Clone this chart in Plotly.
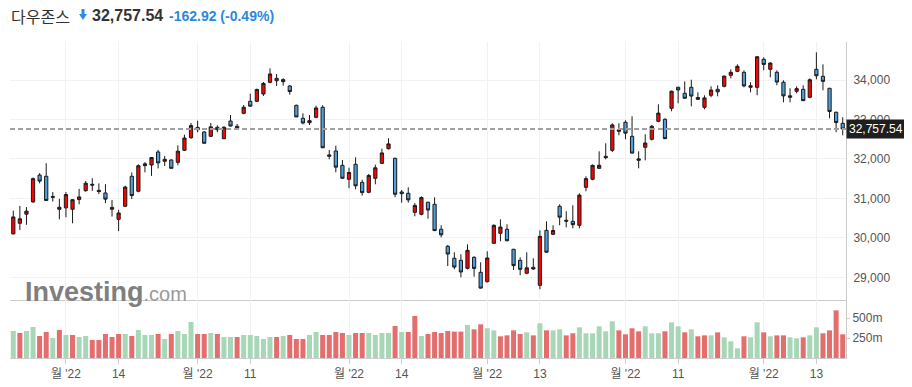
import plotly.graph_objects as go

# ---------------- data ----------------
month_days = {
    "2022-06": [21, 22, 23, 24, 27, 28, 29, 30],
    "2022-07": [1, 5, 6, 7, 8, 11, 12, 13, 14, 15, 18, 19, 20, 21, 22, 25, 26, 27, 28, 29],
    "2022-08": [1, 2, 3, 4, 5, 8, 9, 10, 11, 12, 15, 16, 17, 18, 19, 22, 23, 24, 25, 26, 29, 30, 31],
    "2022-09": [1, 2, 6, 7, 8, 9, 12, 13, 14, 15, 16, 19, 20, 21, 22, 23, 26, 27, 28, 29, 30],
    "2022-10": [3, 4, 5, 6, 7, 10, 11, 12, 13, 14, 17, 18, 19, 20, 21, 24, 25, 26, 27, 28, 31],
    "2022-11": [1, 2, 3, 4, 7, 8, 9, 10, 11, 14, 15, 16, 17, 18, 21, 22, 23, 25, 28, 29, 30],
    "2022-12": [1, 2, 5, 6, 7, 8, 9, 12, 13, 14, 15, 16, 19],
}
dates = [f"{m}-{d:02d}" for m, days in month_days.items() for d in days]

opens = [30100, 30370, 30600, 30910, 31590, 31560, 31050, 30724, 30760, 30725,
         30970, 31195, 31357, 31205, 31137, 30725, 30470, 30800, 31560, 31180,
         31830, 31846, 32176, 31940, 31973, 31914, 32218, 32538, 32741, 32682,
         32573, 32801, 32513, 32961, 32827, 33156, 33460, 33460, 33645, 33941,
         34042, 33957, 33848, 33359, 33029, 32918, 33055, 33308, 32067, 32201,
         31838, 31484, 31864, 31407, 31154, 31509, 31889, 32259, 32016, 31162,
         31129, 30647, 30597, 30901, 30850, 30217, 29786, 29482, 29431, 29228,
         29507, 29127, 28889, 29862, 30115, 30217, 29710, 29431, 29102, 29254,
         28797, 30191, 30090, 30800, 30445, 30419, 30318, 31281, 31484, 31762,
         32066, 32218, 32700, 32928, 32573, 31965, 32295, 32497, 32953, 33004,
         33283, 33815, 33663, 33815, 33511, 33308, 33612, 33764, 33840, 34119,
         34220, 34195, 33815, 33815, 34525, 34271, 34195, 33942, 33562, 33713,
         33764, 33562, 34271, 34093, 33790, 33182, 32903]
highs = [30690, 30810, 30780, 31530, 31640, 31890, 31160, 30990, 31160, 30980,
         31240, 31440, 31510, 31380, 31360, 30960, 30710, 31320, 31660, 31864,
         31920, 32050, 32230, 32075, 31990, 32345, 32615, 32910, 32969, 32708,
         32910, 32852, 32827, 33113, 32885, 33367, 33653, 33780, 33949, 34296,
         34152, 34042, 33873, 33375, 33156, 33113, 33350, 33360, 32226, 32336,
         31973, 31778, 32041, 31474, 31620, 31854, 32259, 32523, 32030, 31213,
         31281, 30883, 31050, 30917, 31027, 30318, 29819, 29634, 29584, 29837,
         29533, 29381, 29659, 30343, 30470, 30343, 29720, 29507, 29634, 29482,
         30191, 30419, 30318, 30850, 30673, 30825, 31129, 31560, 31860, 32193,
         32396, 32903, 32903, 32979, 33080, 32193, 32624, 32860, 33384, 33030,
         33730, 33830, 33967, 34008, 33688, 33612, 33840, 33866, 34110, 34271,
         34398, 34246, 33942, 34601, 34575, 34449, 34246, 33992, 33790, 33840,
         33866, 34042, 34702, 34398, 33800, 33200, 33055]
lows = [30090, 30200, 30330, 30890, 31380, 30940, 30920, 30470, 30520, 30370,
        30850, 31170, 31190, 31110, 30880, 30540, 30170, 30790, 30985, 31154,
        31660, 31570, 31760, 31820, 31750, 31838, 32200, 32513, 32675, 32390,
        32556, 32675, 32500, 32827, 32741, 33131, 33333, 33440, 33595, 33916,
        33848, 33856, 33628, 33062, 32877, 32860, 33029, 32275, 31990, 31661,
        31500, 31256, 31230, 31070, 31130, 31357, 31870, 32240, 31030, 30891,
        30891, 30546, 30570, 30486, 30170, 30014, 29287, 29203, 29000, 29200,
        29016, 28715, 28870, 29850, 29913, 29913, 29186, 29051, 29080, 29186,
        28696, 29630, 30070, 30318, 30267, 30242, 30242, 31180, 31460, 31750,
        31990, 32176, 32599, 32497, 32140, 31762, 31965, 32470, 32930, 32500,
        33207, 33410, 33530, 33333, 33493, 33258, 33562, 33587, 33815, 34042,
        34200, 33815, 33688, 33612, 34246, 34068, 33866, 33435, 33435, 33663,
        33470, 33540, 34017, 33739, 33029, 32675, 32599]
closes = [30530, 30483, 30677, 31500, 31438, 30947, 31029, 30775, 31097, 30967,
          31037, 31385, 31338, 31173, 30981, 30772, 30630, 31288, 31072, 31827,
          31875, 32036, 31899, 31990, 31762, 32197, 32530, 32845, 32798, 32397,
          32813, 32740, 32803, 32833, 32775, 33310, 33336, 33761, 33913, 34153,
          33980, 34010, 33707, 33064, 32910, 32970, 33292, 32283, 32099, 31791,
          31510, 31656, 31318, 31146, 31581, 31775, 32152, 32381, 31105, 31120,
          30962, 30822, 31020, 30706, 30184, 30077, 29590, 29260, 29135, 29684,
          29226, 28726, 29490, 30317, 30274, 29927, 29297, 29203, 29240, 29211,
          30039, 29635, 30186, 30524, 30424, 30334, 31083, 31500, 31837, 31839,
          32034, 32862, 32733, 32653, 32148, 32001, 32403, 32827, 33161, 32514,
          33716, 33748, 33537, 33593, 33554, 33547, 33746, 33700, 34098, 34195,
          34347, 33850, 33853, 34590, 34395, 34430, 33948, 33597, 33598, 33781,
          33477, 34006, 34108, 33966, 33203, 32921, 32757.54]
volumes_m = [340, 315, 340, 390, 277, 327, 252, 353, 290, 290,
             264, 277, 227, 227, 302, 264, 302, 302, 277, 353,
             290, 290, 302, 239, 302, 340, 302, 453, 302, 302,
             315, 302, 264, 264, 264, 290, 290, 277, 239, 264,
             264, 277, 290, 239, 239, 290, 327, 290, 290, 327,
             315, 290, 315, 315, 315, 290, 315, 315, 403, 327,
             327, 529, 277, 302, 327, 315, 340, 332, 332, 416,
             361, 424, 374, 348, 273, 285, 348, 302, 323, 285,
             437, 348, 348, 361, 285, 311, 386, 311, 311, 399,
             336, 462, 348, 298, 374, 336, 399, 311, 311, 336,
             449, 399, 323, 361, 273, 285, 285, 323, 260, 210,
             122, 273, 260, 449, 323, 273, 285, 285, 260, 248,
             260, 285, 386, 311, 348, 600, 298]

tick_dates = ["2022-07-01", "2022-07-14", "2022-08-01", "2022-08-11", "2022-09-01",
              "2022-09-14", "2022-10-03", "2022-10-13", "2022-11-01", "2022-11-11",
              "2022-12-01", "2022-12-13"]
tick_text = ["월 '22", "14", "월 '22", "11", "월 '22", "14", "월 '22", "13",
             "월 '22", "11", "월 '22", "13"]
price_ticks = [29000, 30000, 31000, 32000, 33000, 34000]
vol_ticks = [250, 500]
vol_tick_text = ["250m", "500m"]

name = "다우존스"
last_price = closes[-1]
change = -162.92
change_pct = -0.49

# ---------------- styles ----------------
# the page body has an 8px default margin, so the figure is offset by 8px
OFF = 8
W, H = 912 - OFF, 387 - OFF
RED = "#ff0000"
BLUE = "#4e9fdf"
VOL_UP = "#a7d7b7"
VOL_DN = "#e46d6d"
GRID = "#f2f2f2"
AXLINE = "#cccccc"
TXT = "#555555"

vol_colors = []
for i, c in enumerate(closes):
    ref = opens[0] if i == 0 else closes[i - 1]
    vol_colors.append(VOL_UP if c >= ref else VOL_DN)


def px_x(p):
    return (p - OFF) / W


def px_y(p):
    return 1 - (p - OFF) / H


fig = go.Figure()
fig.add_trace(go.Candlestick(
    x=dates, open=opens, high=highs, low=lows, close=closes,
    increasing=dict(fillcolor=RED, line=dict(color="#1a1a1a", width=1)),
    decreasing=dict(fillcolor=BLUE, line=dict(color="#1a1a1a", width=1)),
    whiskerwidth=0, xaxis="x", yaxis="y", showlegend=False, hoverinfo="skip",
))
fig.add_trace(go.Bar(
    x=dates, y=volumes_m, marker=dict(color=vol_colors, line=dict(width=0)),
    xaxis="x2", yaxis="y2", showlegend=False, hoverinfo="skip",
))

xdom = [px_x(10), px_x(846)]
fig.update_layout(
    width=W, height=H, autosize=False,
    margin=dict(l=0, r=0, t=0, b=0),
    paper_bgcolor="white", plot_bgcolor="white",
    bargap=0.24,
    font=dict(family="Liberation Sans, Arial, Noto Sans CJK KR", size=12, color=TXT),
    xaxis=dict(domain=xdom, type="category", range=[-0.5, len(dates) - 0.5],
               tickvals=tick_dates, showticklabels=False, ticks="",
               showgrid=True, gridcolor=GRID, showline=True, linecolor=AXLINE,
               zeroline=False, rangeslider=dict(visible=False), anchor="y",
               fixedrange=True),
    yaxis=dict(domain=[px_y(300), px_y(42)], range=[28425, 34963], side="right",
               tickvals=price_ticks, tickformat=",", showgrid=True, gridcolor=GRID,
               showline=True, linecolor=AXLINE, zeroline=False, ticks="",
               ticklabelstandoff=4,
               tickfont=dict(size=12, color=TXT), anchor="x", fixedrange=True),
    xaxis2=dict(domain=xdom, type="category", matches="x",
                tickvals=tick_dates, ticktext=tick_text, ticks="outside",
                ticklen=5, tickcolor=AXLINE, showgrid=True, gridcolor=GRID,
                showline=True, linecolor=AXLINE, zeroline=False, anchor="y2",
                tickfont=dict(size=12, color=TXT,
                              family="Liberation Sans, Noto Sans CJK KR"),
                fixedrange=True),
    yaxis2=dict(domain=[px_y(358), px_y(300)], range=[0, 730], side="right",
                tickvals=vol_ticks, ticktext=vol_tick_text, showgrid=False,
                showline=True, linecolor=AXLINE, zeroline=False, ticks="outside",
                ticklen=3, tickcolor=AXLINE, tickfont=dict(size=12, color=TXT),
                anchor="x2", fixedrange=True),
)

# last-price dashed line
fig.add_shape(type="line", xref="x domain", x0=0, x1=1, yref="y",
              y0=last_price, y1=last_price,
              line=dict(color="#a0a0a0", width=2, dash="5px,3px"))

# last-price label box
fig.add_annotation(xref="paper", x=px_x(846), xanchor="left", yref="y", y=last_price,
                   text=f"{last_price:,.2f}", showarrow=False, bgcolor="#1f1f1f",
                   font=dict(color="white", size=12), borderpad=2)

# header
fig.add_annotation(xref="paper", yref="paper", x=px_x(9), y=px_y(16),
                   xanchor="left", yanchor="middle", showarrow=False, text=name,
                   font=dict(family="Noto Sans CJK KR", size=16, color="#333333"))
ax0, ay0 = 79, 9
arrow_pts = [(ax0 + 2.5, ay0), (ax0 + 5.5, ay0), (ax0 + 5.5, ay0 + 5), (ax0 + 8, ay0 + 5),
             (ax0 + 4, ay0 + 11), (ax0, ay0 + 5), (ax0 + 2.5, ay0 + 5)]
path = "M " + " L ".join(f"{px_x(a):.5f},{px_y(b):.5f}" for a, b in arrow_pts) + " Z"
fig.add_shape(type="path", xref="paper", yref="paper", path=path,
              fillcolor="#2b8be6", line=dict(width=0))
fig.add_annotation(xref="paper", yref="paper", x=px_x(90), y=px_y(16),
                   xanchor="left", yanchor="middle", showarrow=False,
                   text=f"<b>{last_price:,.2f}</b>",
                   font=dict(size=16, color="#333333"))
fig.add_annotation(xref="paper", yref="paper", x=px_x(167), y=px_y(16),
                   xanchor="left", yanchor="middle", showarrow=False,
                   text=f"<b>{change:,.2f} ({change_pct:.2f}%)</b>",
                   font=dict(size=14, color="#2b88e0"))

# watermark
fig.add_annotation(xref="paper", yref="paper", x=px_x(23), y=px_y(292),
                   xanchor="left", yanchor="middle", showarrow=False,
                   text="<b>Investing</b><span style='font-size:20px;color:#9a9a9a'>.com</span>",
                   font=dict(size=27, color="#7f7f7f"))

fig.write_html("out.html")
